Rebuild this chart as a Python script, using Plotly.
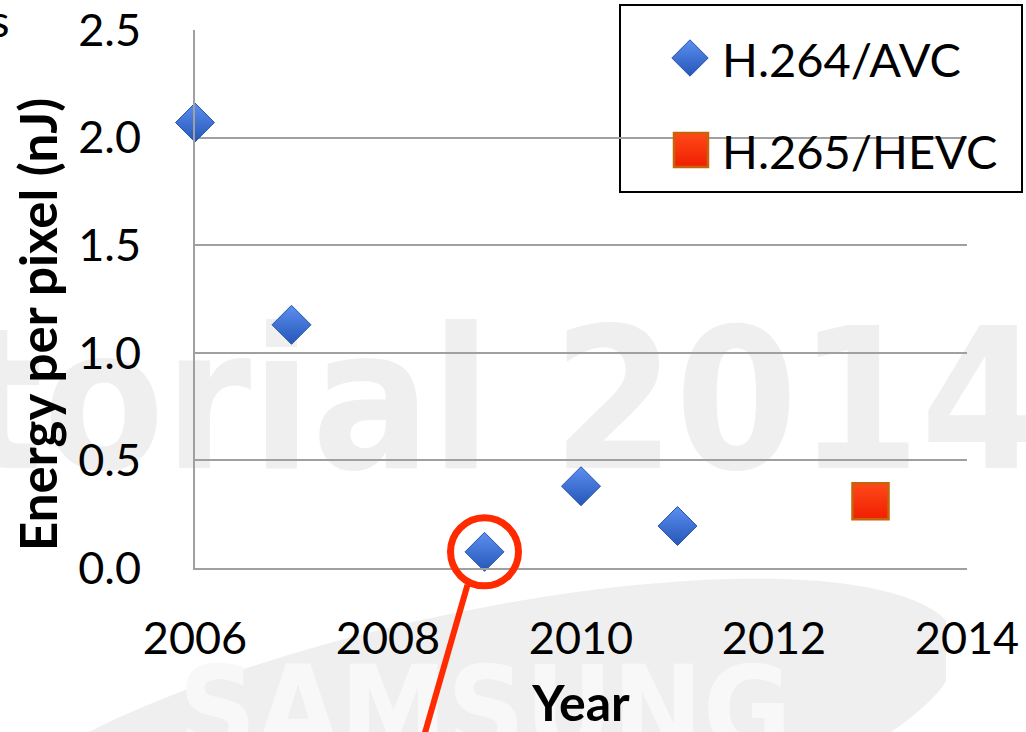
import numpy as np
import plotly.graph_objects as go

# ---- data -------------------------------------------------------------
avc_years = [2006, 2007, 2009, 2010, 2011]
avc_energy = [2.07, 1.13, 0.075, 0.38, 0.195]
hevc_years = [2013]
hevc_energy = [0.31]
highlight_year = 2009
highlight_energy = 0.075

x_ticks = [2006, 2008, 2010, 2012, 2014]
y_ticks = [0.0, 0.5, 1.0, 1.5, 2.0, 2.5]
x_range = [2006, 2014]
y_range = [0, 2.5]

series_names = ["H.264/AVC", "H.265/HEVC"]

# ---- geometry ---------------------------------------------------------
W, H = 1026, 732
ML, MR, MT, MB = 195, 59, 30, 164
PW, PH = W - ML - MR, H - MT - MB


def px(xp):
    """figure pixel x -> paper fraction"""
    return (xp - ML) / PW


def py(yp):
    """figure pixel y (from top) -> paper fraction"""
    return (H - MB - yp) / PH


FONT = "Lato, 'Open Sans', sans-serif"
GRID = "#a0a0a0"
BLUE_DARK = "#2556b8"
RED = "#ff2a00"

fig = go.Figure()

# data series
fig.add_trace(go.Scatter(
    x=avc_years, y=avc_energy, mode="markers", name=series_names[0],
    marker=dict(symbol="diamond", size=30, color="#5b8ff0",
                gradient=dict(type="vertical", color=BLUE_DARK),
                line=dict(color="#2a55ad", width=1)),
    cliponaxis=False, showlegend=False,
))
fig.add_trace(go.Scatter(
    x=hevc_years, y=hevc_energy, mode="markers", name=series_names[1],
    marker=dict(symbol="square", size=36, color="#ff4a1a",
                gradient=dict(type="vertical", color="#f01e00"),
                line=dict(color="#c8630a", width=2.5)),
    cliponaxis=False, showlegend=False,
))

# legend keys on an overlay axis spanning the plot area in [0, 1]
fig.add_trace(go.Scatter(
    x=[px(690)], y=[py(58)], xaxis="x2", yaxis="y2", mode="markers",
    marker=dict(symbol="diamond", size=28, color="#5b8ff0",
                gradient=dict(type="vertical", color=BLUE_DARK),
                line=dict(color="#2a55ad", width=1)),
    cliponaxis=False, showlegend=False, hoverinfo="skip",
))
fig.add_trace(go.Scatter(
    x=[px(691)], y=[py(150)], xaxis="x2", yaxis="y2", mode="markers",
    marker=dict(symbol="square", size=34, color="#ff4a1a",
                gradient=dict(type="vertical", color="#f01e00"),
                line=dict(color="#c8630a", width=2.5)),
    cliponaxis=False, showlegend=False, hoverinfo="skip",
))

shapes = []

# background watermark: tilted ellipse logo, clipped on the right
cx, cy, a, b = 455, 752, 515, 136
phi = np.deg2rad(12.5)
t = np.linspace(0, 2 * np.pi, 160)
ex = cx + a * np.cos(t) * np.cos(phi) + b * np.sin(t) * np.sin(phi)
ey = cy - a * np.cos(t) * np.sin(phi) + b * np.sin(t) * np.cos(phi)
ex = np.clip(ex, -80, 946)
path = "M " + " L ".join(f"{px(u):.4f},{py(v):.4f}" for u, v in zip(ex, ey)) + " Z"
shapes.append(dict(type="path", path=path, xref="paper", yref="paper",
                   fillcolor="#efefef", line=dict(width=0), layer="below"))
shapes.append(dict(type="rect", xref="paper", yref="paper",
                   x0=px(150), x1=px(820), y0=py(780), y1=py(620),
                   line=dict(width=0), fillcolor="rgba(0,0,0,0)", layer="below",
                   label=dict(text="SAMSUNG", textposition="middle center",
                              font=dict(family="DejaVu Sans Condensed", size=120,
                                        color="#f8f8f8", weight="bold"))))
shapes.append(dict(type="rect", xref="paper", yref="paper",
                   x0=px(-89), x1=px(1091), y0=py(496), y1=py(276),
                   line=dict(width=0), fillcolor="rgba(0,0,0,0)", layer="below",
                   label=dict(text="torial 2014", textposition="middle center",
                              font=dict(family="DejaVu Sans Condensed", size=196,
                                        color="#efefef", weight="bold"))))

# legend frame (above grid, below markers)
shapes.append(dict(type="rect", xref="paper", yref="paper",
                   x0=px(620), x1=px(1022), y0=py(192), y1=py(5),
                   line=dict(color="black", width=2), fillcolor="white",
                   layer="between"))

# highlight ring and pointer on the 2009 value
hx = (highlight_year - x_range[0]) / (x_range[1] - x_range[0])
hy = (highlight_energy - y_range[0]) / (y_range[1] - y_range[0])
shapes.append(dict(type="circle", xref="paper", yref="paper",
                   xsizemode="pixel", ysizemode="pixel", xanchor=hx, yanchor=hy,
                   x0=-34, x1=34, y0=-34, y1=34,
                   line=dict(color=RED, width=7), layer="above"))
shapes.append(dict(type="line", xref="paper", yref="paper",
                   xsizemode="pixel", ysizemode="pixel", xanchor=hx, yanchor=hy,
                   x0=-17, y0=-33, x1=-65, y1=-200,
                   line=dict(color=RED, width=6), layer="above"))

annotations = [
    dict(text=series_names[0], xref="paper", yref="paper", x=px(720), y=py(59),
         xanchor="left", yanchor="middle", showarrow=False,
         font=dict(family=FONT, size=47, color="black")),
    dict(text=series_names[1], xref="paper", yref="paper", x=px(720), y=py(151),
         xanchor="left", yanchor="middle", showarrow=False,
         font=dict(family=FONT, size=47, color="black")),
    dict(text="s", xref="paper", yref="paper", x=px(12), y=py(20),
         xanchor="right", yanchor="middle", showarrow=False,
         font=dict(family=FONT, size=45, color="black")),
    # y-axis title
    dict(text="<b>Energy per pixel (nJ)</b>", xref="paper", yref="paper",
         x=px(37), y=py(325), xanchor="center", yanchor="middle",
         textangle=-90, showarrow=False,
         font=dict(family=FONT, size=51, color="black")),
]

fig.update_layout(
    width=W, height=H,
    margin=dict(l=ML, r=MR, t=MT, b=MB, autoexpand=False),
    paper_bgcolor="white", plot_bgcolor="rgba(0,0,0,0)",
    showlegend=False,
    font=dict(family=FONT, color="black"),
    shapes=shapes, annotations=annotations,
    xaxis=dict(range=x_range, tickvals=x_ticks, ticktext=[str(v) for v in x_ticks],
               showgrid=False, zeroline=False, showline=True, linecolor=GRID,
               linewidth=2, ticks="", ticklabelstandoff=30,
               tickfont=dict(family=FONT, size=45),
               title=dict(text="Year", standoff=28,
                          font=dict(family=FONT, size=50, weight="bold"))),
    yaxis=dict(range=y_range, tickvals=y_ticks, ticktext=[f"{v:.1f}" for v in y_ticks],
               showgrid=True, gridcolor=GRID, gridwidth=2, zeroline=False,
               showline=True, linecolor=GRID, linewidth=2, ticks="",
               ticklabelstandoff=43, tickfont=dict(family=FONT, size=45)),
    xaxis2=dict(overlaying="x", range=[0, 1], visible=False),
    yaxis2=dict(overlaying="y", range=[0, 1], visible=False),
)

fig.write_html("out.html")
